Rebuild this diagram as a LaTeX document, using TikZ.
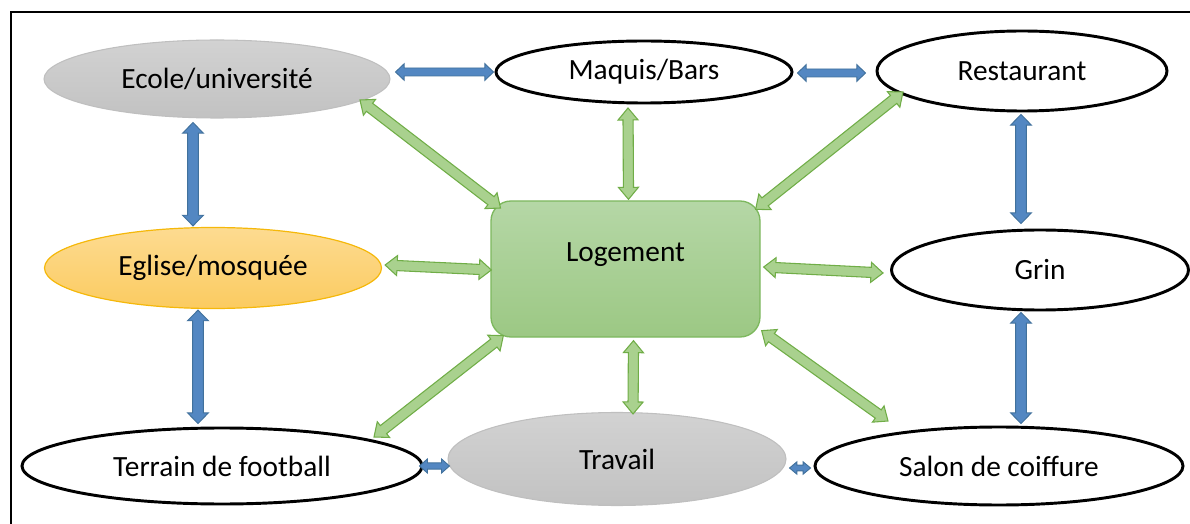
\documentclass[tikz,border=0pt]{standalone}
\usepackage{fontspec}
\setmainfont{Carlito}
\usetikzlibrary{calc,shapes.geometric}
\definecolor{bluefill}{HTML}{5387C2}
\definecolor{blueline}{HTML}{41719C}
\definecolor{greenfill}{HTML}{A9D18E}
\definecolor{greenline}{HTML}{70AD47}
\definecolor{graytop}{HTML}{D2D2D2}
\definecolor{graybot}{HTML}{C2C2C2}
\definecolor{grayline}{HTML}{BFBFBF}
\definecolor{orangetop}{HTML}{FDDB91}
\definecolor{orangebot}{HTML}{FBCB60}
\definecolor{orangeline}{HTML}{F5B80A}
\definecolor{logtop}{HTML}{B5D7A6}
\definecolor{logbot}{HTML}{9CC884}
\definecolor{logline}{HTML}{7DB85E}
% block double arrow: #1 style, #2 from, #3 to, #4 shaft half width, #5 head half width, #6 head length
\newcommand{\dblockarrow}[6]{%
  \coordinate (hA) at ($(#2)!#6!(#3)$);
  \coordinate (hB) at ($(#3)!#6!(#2)$);
  \path[#1] (#2) -- ($(hA)!#5!-90:(#3)$) -- ($(hA)!#4!-90:(#3)$)
    -- ($(hB)!#4!90:(#2)$) -- ($(hB)!#5!90:(#2)$) -- (#3)
    -- ($(hB)!#5!-90:(#2)$) -- ($(hB)!#4!-90:(#2)$)
    -- ($(hA)!#4!90:(#3)$) -- ($(hA)!#5!90:(#3)$) -- cycle;
}
\tikzset{
  x=0.75pt, y=-0.75pt,
  txt/.style={font=\fontsize{22}{26}\selectfont},
  ell/.style={ellipse, inner sep=0pt, txt},
  whiteell/.style={ell, draw=black, line width=2.2pt, fill=white},
  grayell/.style={ell, draw=grayline, line width=0.8pt, top color=graytop, bottom color=graybot},
  orangeell/.style={ell, draw=orangeline, line width=0.9pt, top color=orangetop, bottom color=orangebot},
  logbox/.style={rectangle, rounded corners=15pt, inner sep=0pt, draw=logline, line width=1pt,
    top color=logtop, bottom color=logbot, txt},
  bluearrow/.style={fill=bluefill, draw=blueline, line width=0.7pt, line join=miter},
  greenarrow/.style={fill=greenfill, draw=greenline, line width=0.8pt, line join=miter},
  frameline/.style={line width=2.2pt, draw=black}
}
\begin{document}
\begin{tikzpicture}
\useasboundingbox (0,0) rectangle (1190,524);
\draw[frameline] (1190,12) -- (11,12) -- (11,524);

% nodes
\node[grayell, minimum width=259.5pt, minimum height=58.5pt] (ecole) at (217,79) {Ecole/universit\'e};
\node[whiteell, minimum width=222pt, minimum height=46.5pt] (maquis) at (644,72) {Maquis/Bars};
\node[whiteell, minimum width=217.5pt, minimum height=60pt] (restaurant) at (1022,71) {Restaurant};
\node[orangeell, minimum width=252.75pt, minimum height=60.75pt] (eglise) at (213,268) {Eglise/mosqu\'ee};
\node[logbox, minimum width=201.75pt, minimum height=102pt,
      label={[txt, yshift=11pt]center:Logement}] (logement) at (625.5,269) {};
\node[whiteell, minimum width=222.75pt, minimum height=60pt] (grin) at (1040,270) {Grin};
\node[whiteell, minimum width=300pt, minimum height=57pt] (terrain) at (222,466) {Terrain de football};
\node[grayell, minimum width=253.5pt, minimum height=69.75pt] (travail) at (617,459) {Travail};
\node[whiteell, minimum width=276pt, minimum height=58.5pt] (salon) at (999,466) {Salon de coiffure};

% blue arrows
\dblockarrow{bluearrow}{$(ecole.east)+(5,-7)$}{$(maquis.west)+(-1,0)$}{3pt}{6.2pt}{6.5pt}
\dblockarrow{bluearrow}{$(maquis.east)+(4,1)$}{$(restaurant.west)+(-10,2)$}{3pt}{6.2pt}{6.5pt}
\dblockarrow{bluearrow}{$(ecole.south)+(-24,4)$}{$(eglise.north)+(-20,-1)$}{4pt}{7.8pt}{8pt}
\dblockarrow{bluearrow}{$(eglise.south)+(-15,1)$}{$(terrain.north)+(-24,-3)$}{4pt}{7.8pt}{8pt}
\dblockarrow{bluearrow}{$(restaurant.south)+(-1,2)$}{$(grin.north)+(-19,-5)$}{4pt}{7.8pt}{8pt}
\dblockarrow{bluearrow}{$(grin.south)+(-19,1)$}{$(salon.north)+(22,-2)$}{4pt}{7.8pt}{8pt}
\dblockarrow{bluearrow}{$(terrain.east)+(-4,0)$}{$(travail.west)+(2,7)$}{2.4pt}{5.3pt}{6pt}
\dblockarrow{bluearrow}{$(travail.east)+(3,9)$}{$(salon.west)+(-3,2)$}{2.2pt}{4.6pt}{5.5pt}

% green arrows
\dblockarrow{greenarrow}{$(ecole)+(143,21)$}{$(logement)+(-125,-61)$}{3.8pt}{7.5pt}{9pt}
\dblockarrow{greenarrow}{$(maquis)+(-16,36)$}{$(logement.north)+(3,-1)$}{3.8pt}{7.5pt}{9pt}
\dblockarrow{greenarrow}{$(restaurant)+(-119,21)$}{$(logement.north east)+(-5,9)$}{3.8pt}{7.5pt}{9pt}
\dblockarrow{greenarrow}{$(eglise.east)+(3,-3)$}{$(logement.west)+(1,1)$}{3.8pt}{7.5pt}{9pt}
\dblockarrow{greenarrow}{$(logement.east)+(3,-2)$}{$(grin.west)+(-7,3)$}{3.8pt}{7.5pt}{9pt}
\dblockarrow{greenarrow}{$(logement.south west)+(13,-2)$}{$(terrain)+(152,-29)$}{3.8pt}{7.5pt}{9pt}
\dblockarrow{greenarrow}{$(logement.south)+(8,3)$}{$(travail.north)+(16,2)$}{3.8pt}{7.5pt}{9pt}
\dblockarrow{greenarrow}{$(logement.south east)+(1,-7)$}{$(salon)+(-111,-45)$}{3.8pt}{7.5pt}{9pt}
\end{tikzpicture}
\end{document}
